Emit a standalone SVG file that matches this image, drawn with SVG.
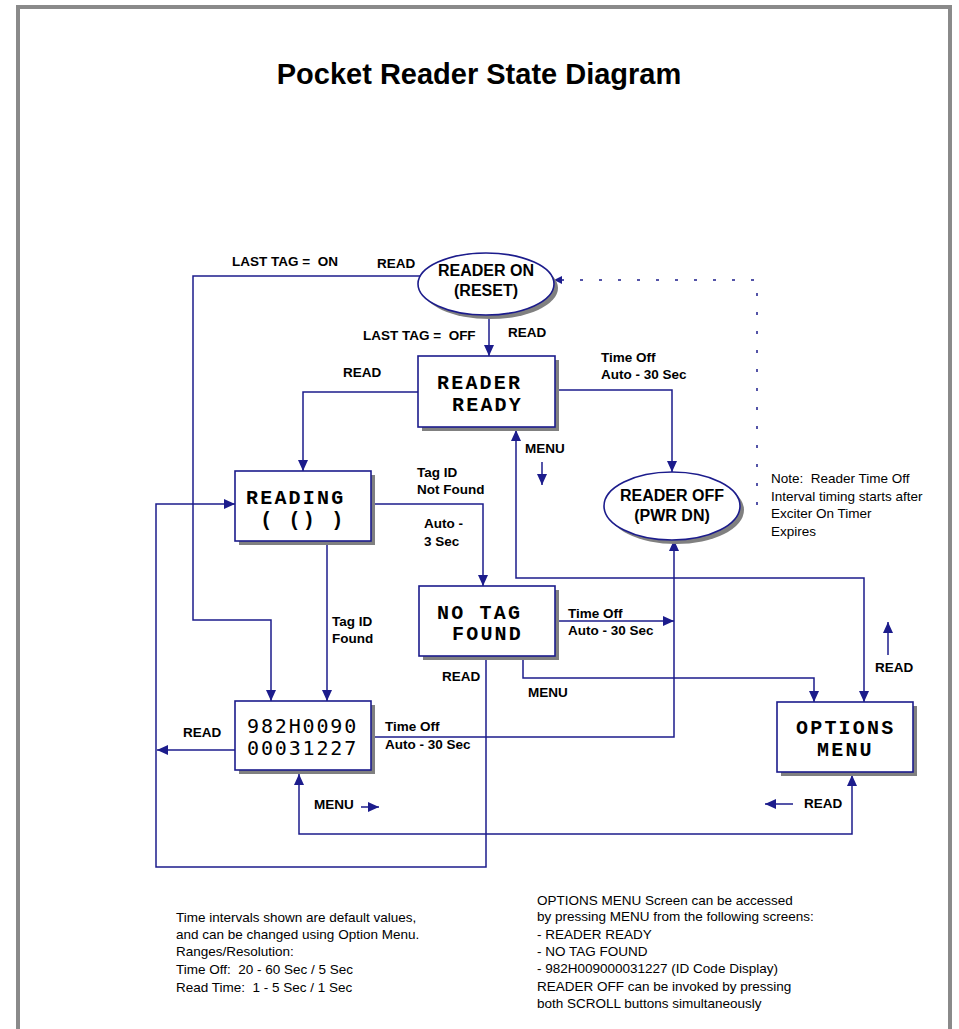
<svg xmlns="http://www.w3.org/2000/svg" width="959" height="1029" viewBox="0 0 959 1029">
<defs>
<marker id="ah" viewBox="0 0 11 10" markerWidth="11" markerHeight="10" refX="11" refY="5" orient="auto-start-reverse" markerUnits="userSpaceOnUse">
<path d="M0,0 L11,5 L0,10 z" fill="#1c1c8c"/>
</marker>
</defs>
<style>
.frame{fill:none;stroke:#8a8a8a;stroke-width:4}
.box{fill:#fff;stroke:#1c1c8c;stroke-width:1.6}
.shadow{fill:#808080}
.con{fill:none;stroke:#1c1c8c;stroke-width:1.5}
.dot{fill:none;stroke:#1c1c8c;stroke-width:1.5;stroke-dasharray:3 16}
.lbl{font-family:"Liberation Sans",Arial,sans-serif;font-weight:bold;font-size:13.5px;fill:#000;white-space:pre}
.txt{font-family:"Liberation Sans",Arial,sans-serif;font-size:13.5px;fill:#000;white-space:pre}
.ell{font-family:"Liberation Sans",Arial,sans-serif;font-weight:bold;font-size:16px;fill:#000;text-anchor:middle}
.mono{font-family:"Liberation Mono","Courier New",monospace;font-weight:bold;font-size:20px;letter-spacing:2.2px;fill:#000;white-space:pre}
.num{font-family:"DejaVu Sans Mono",monospace;font-size:20px;letter-spacing:1.85px;fill:#000}
.title{font-family:"Liberation Sans",Arial,sans-serif;font-weight:bold;font-size:29px;fill:#000;text-anchor:middle}
</style>
<rect x="0" y="0" width="959" height="1029" fill="#fff"/>
<rect class="frame" x="18" y="7" width="932" height="1040"/>
<text class="title" x="479" y="84">Pocket Reader State Diagram</text>

<g id="connectors">
<path class="con" d="M489,315 L489,356" marker-end="url(#ah)"/>
<path class="con" d="M420,276 L193,276 L193,620 L271,620 L271,701" marker-end="url(#ah)"/>
<path class="con" d="M418,392 L303,392 L303,471" marker-end="url(#ah)"/>
<path class="con" d="M555,390 L672,390 L672,472" marker-end="url(#ah)"/>
<path class="con" d="M371,504 L483,504 L483,586" marker-end="url(#ah)"/>
<path class="con" d="M327,541 L327,701" marker-end="url(#ah)"/>
<path class="con" d="M486,656 L486,867 L156,867 L156,504 L235,504" marker-end="url(#ah)"/>
<path class="con" d="M235,750 L157,750" marker-end="url(#ah)"/>
<path class="con" d="M371,737 L674,737 L674,540" marker-end="url(#ah)"/>
<path class="con" d="M555,621 L674,621" marker-end="url(#ah)"/>
<path class="con" d="M523,656 L523,678 L814,678 L814,702" marker-end="url(#ah)"/>
<path class="con" d="M864,702 L864,578 L516,578 L516,430" marker-start="url(#ah)" marker-end="url(#ah)"/>
<path class="con" d="M299,774 L299,834 L852,834 L852,775" marker-start="url(#ah)" marker-end="url(#ah)"/>
<path class="dot" d="M757,505 L757,280 L562,280"/>
<path d="M554,280 L562,276 L562,284 z" fill="#1c1c8c"/>
<path class="con" d="M542,462 L542,485" marker-end="url(#ah)"/>
<path class="con" d="M888,655 L888,622" marker-end="url(#ah)"/>
<path class="con" d="M361,807 L379,807" marker-end="url(#ah)"/>
<path class="con" d="M793,804 L765,804" marker-end="url(#ah)"/>
</g>

<g id="labels">
<text class="lbl" x="232" y="266" xml:space="preserve">LAST TAG =  ON</text>
<text class="lbl" x="377" y="268">READ</text>
<text class="lbl" x="363" y="340" xml:space="preserve">LAST TAG =  OFF</text>
<text class="lbl" x="508" y="337">READ</text>
<text class="lbl" x="343" y="377">READ</text>
<text class="lbl" x="601" y="362">Time Off</text>
<text class="lbl" x="601" y="379">Auto - 30 Sec</text>
<text class="lbl" x="525" y="453">MENU</text>
<text class="lbl" x="417" y="477">Tag ID</text>
<text class="lbl" x="417" y="494">Not Found</text>
<text class="lbl" x="424" y="528">Auto -</text>
<text class="lbl" x="424" y="546">3 Sec</text>
<text class="lbl" x="332" y="626">Tag ID</text>
<text class="lbl" x="332" y="643">Found</text>
<text class="lbl" x="568" y="618">Time Off</text>
<text class="lbl" x="568" y="635">Auto - 30 Sec</text>
<text class="lbl" x="442" y="681">READ</text>
<text class="lbl" x="528" y="697">MENU</text>
<text class="lbl" x="875" y="672">READ</text>
<text class="lbl" x="183" y="737">READ</text>
<text class="lbl" x="385" y="731">Time Off</text>
<text class="lbl" x="385" y="749">Auto - 30 Sec</text>
<text class="lbl" x="314" y="809">MENU</text>
<text class="lbl" x="804" y="808">READ</text>
</g>

<g id="reader-on">
<ellipse class="shadow" cx="490" cy="288" rx="68" ry="31"/>
<ellipse class="box" cx="486" cy="284" rx="68" ry="31"/>
<text class="ell" x="486" y="276">READER ON</text>
<text class="ell" x="486" y="296">(RESET)</text>
</g>

<g id="reader-ready">
<rect class="shadow" x="422" y="360" width="137" height="71"/>
<rect class="box" x="418" y="356" width="137" height="71"/>
<text class="mono" x="437" y="389">READER</text>
<text class="mono" x="452" y="411">READY</text>
</g>

<g id="reader-off">
<ellipse class="shadow" cx="676" cy="510" rx="68" ry="34"/>
<ellipse class="box" cx="672" cy="506" rx="68" ry="34"/>
<text class="ell" x="672" y="501">READER OFF</text>
<text class="ell" x="672" y="521">(PWR DN)</text>
</g>

<g id="reading">
<rect class="shadow" x="239" y="475" width="136" height="70"/>
<rect class="box" x="235" y="471" width="136" height="70"/>
<text class="mono" x="246" y="504">READING</text>
<text class="mono" x="246" y="526" xml:space="preserve"> ( () )</text>
</g>

<g id="no-tag-found">
<rect class="shadow" x="423" y="590" width="136" height="70"/>
<rect class="box" x="419" y="586" width="136" height="70"/>
<text class="mono" x="437" y="619" xml:space="preserve">NO TAG</text>
<text class="mono" x="452" y="640">FOUND</text>
</g>

<g id="id-display">
<rect class="shadow" x="239" y="705" width="136" height="69"/>
<rect class="box" x="235" y="701" width="136" height="69"/>
<text class="num" x="247" y="733">982H0090</text>
<text class="num" x="247" y="755">00031227</text>
</g>

<g id="options-menu">
<rect class="shadow" x="781" y="706" width="136" height="70"/>
<rect class="box" x="777" y="702" width="136" height="70"/>
<text class="mono" x="796" y="734">OPTIONS</text>
<text class="mono" x="817" y="756">MENU</text>
</g>

<g id="notes">
<text class="txt" x="771" y="483" xml:space="preserve">Note:  Reader Time Off</text>
<text class="txt" x="771" y="501">Interval timing starts after</text>
<text class="txt" x="771" y="518">Exciter On Timer</text>
<text class="txt" x="771" y="536">Expires</text>
<text class="txt" x="176" y="922">Time intervals shown are default values,</text>
<text class="txt" x="176" y="939">and can be changed using Option Menu.</text>
<text class="txt" x="176" y="956">Ranges/Resolution:</text>
<text class="txt" x="176" y="974" xml:space="preserve">Time Off:  20 - 60 Sec / 5 Sec</text>
<text class="txt" x="176" y="992" xml:space="preserve">Read Time:  1 - 5 Sec / 1 Sec</text>
<text class="txt" x="537" y="905">OPTIONS MENU Screen can be accessed</text>
<text class="txt" x="537" y="921">by pressing MENU from the following screens:</text>
<text class="txt" x="537" y="939">- READER READY</text>
<text class="txt" x="537" y="956">- NO TAG FOUND</text>
<text class="txt" x="537" y="973">- 982H009000031227 (ID Code Display)</text>
<text class="txt" x="537" y="991">READER OFF can be invoked by pressing</text>
<text class="txt" x="537" y="1008">both SCROLL buttons simultaneously</text>
</g>
</svg>
